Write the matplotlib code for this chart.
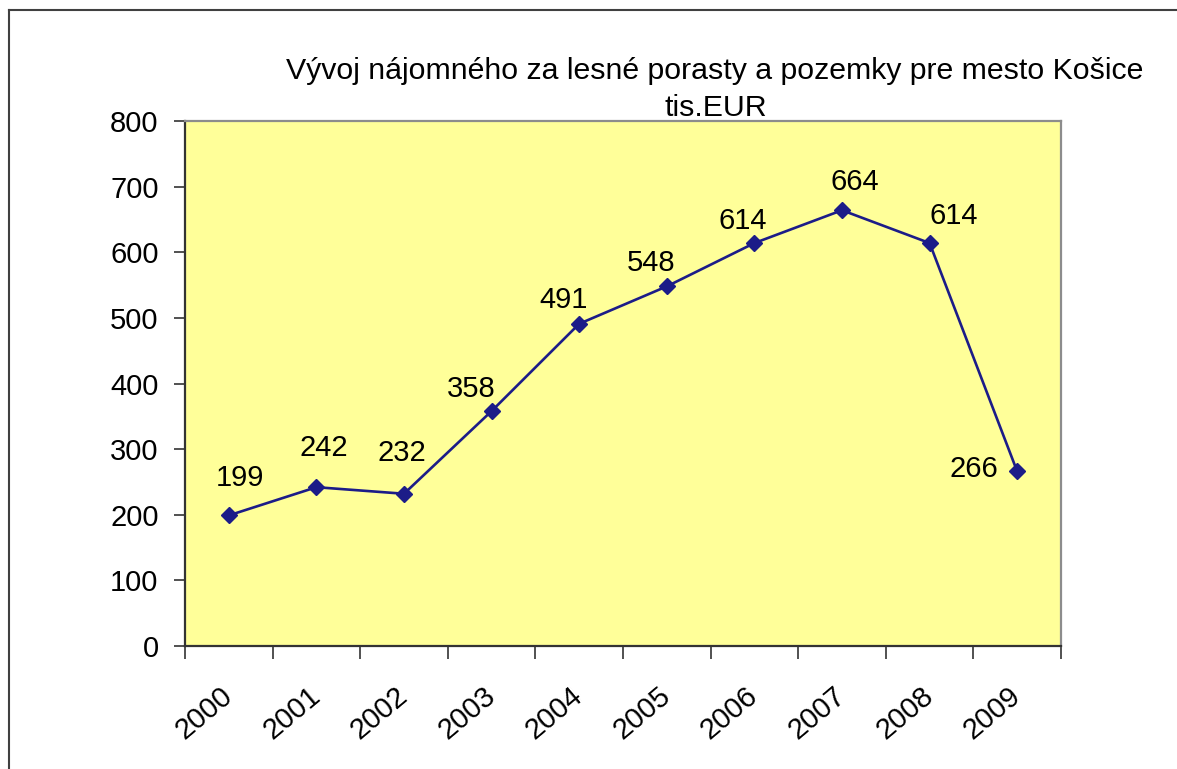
import matplotlib.pyplot as plt
from matplotlib.lines import Line2D
import numpy as np

years = ["2000", "2001", "2002", "2003", "2004", "2005", "2006", "2007", "2008", "2009"]
rent = [199, 242, 232, 358, 491, 548, 614, 664, 614, 266]

# where each value label sits relative to its marker (pixels)
label_dx = [11, 7, -2, -20, -16, -16, -12, 13, 24, -43]
label_dy = [37, 39, 41, 22, 24, 23, 22, 28, 27, 2]

plt.rcParams["font.family"] = ["Liberation Sans", "DejaVu Sans"]
FS = 21

fig = plt.figure(figsize=(11.77, 7.69), dpi=100)
W, H = 1177, 769
ax = fig.add_axes([185 / W, 1 - 646 / H, (1061 - 185) / W, (646 - 121) / H])
ax.set_facecolor("#FFFF99")

x = np.arange(len(years))
ax.plot(x, rent, color="#1c1c88", lw=1.9, marker="D", ms=8, mfc="#1c1c88", mec="#1c1c88")

for i, v in enumerate(rent):
    ax.annotate(str(v), (x[i], v), xytext=(label_dx[i], label_dy[i]),
                textcoords="offset pixels", ha="center", va="center", fontsize=FS)

ax.set_xlim(-0.5, len(years) - 0.5)
ax.set_ylim(0, 800)
ax.set_yticks(np.arange(0, 801, 100))
ax.tick_params(axis="y", direction="out", length=8, width=1.2, labelsize=FS, pad=11, color="#333333")

ax.set_xticks(np.arange(-0.5, len(years)), labels=[""] * (len(years) + 1))
ax.set_xticks(x, labels=years, minor=True)
ax.tick_params(axis="x", which="major", direction="out", length=9, width=1.2, color="#333333")
ax.tick_params(axis="x", which="minor", length=0, labelsize=FS, pad=33)
for lab in ax.get_xticklabels(minor=True):
    lab.set_rotation(40)
    lab.set_ha("right")
    lab.set_va("center")
    lab.set_rotation_mode("anchor")

ax.spines["left"].set_color("#333333")
ax.spines["bottom"].set_color("#333333")
ax.spines["left"].set_linewidth(1.6)
ax.spines["bottom"].set_linewidth(1.6)
ax.spines["top"].set_color("#8c8c8c")
ax.spines["right"].set_color("#8c8c8c")
ax.spines["top"].set_linewidth(1.6)
ax.spines["right"].set_linewidth(1.6)

fig.text(715 / W, 1 - 79 / H, "Vývoj nájomného za lesné porasty a pozemky pre mesto Košice",
         ha="center", va="baseline", fontsize=21.8)
fig.text(716 / W, 1 - 116 / H, "tis.EUR", ha="center", va="baseline", fontsize=21.8)

# outer chart frame (left and top edges visible)
fig.add_artist(Line2D([9 / W, 9 / W], [0, 1 - 10 / H], transform=fig.transFigure, color="#404040", lw=1.5))
fig.add_artist(Line2D([9 / W, 1], [1 - 10 / H, 1 - 10 / H], transform=fig.transFigure, color="#404040", lw=1.5))

fig.savefig("out.png", dpi=100)
